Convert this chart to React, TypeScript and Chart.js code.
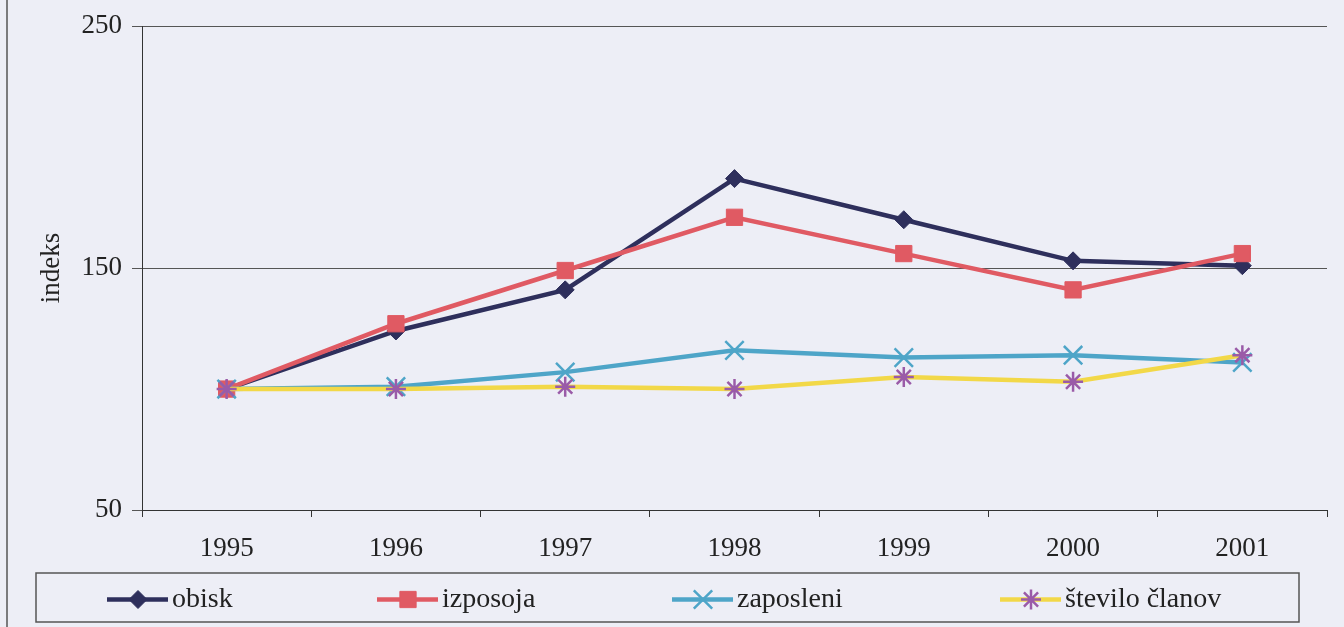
import { useEffect, useRef } from "react";
import { Chart, registerables } from "chart.js";

Chart.register(...registerables);

const years = ["1995", "1996", "1997", "1998", "1999", "2000", "2001"];
const obisk = [100, 124, 141, 187, 170, 153, 151];
const izposoja = [100, 127, 149, 171, 156, 141, 156];
const zaposleni = [100, 101, 107, 116, 113, 114, 111];
const steviloClanov = [100, 100, 101, 100, 105, 103, 114];
const yTicks = [50, 150, 250];
const seriesNames = ["obisk", "izposoja", "zaposleni", "število članov"];

const BG = "#EDEEF6";
const FONT = "'Liberation Serif', 'Times New Roman', serif";
const TEXT = "#222222";
const LEGEND_X = [107, 377, 672, 1000];

function drawMarker(ctx: CanvasRenderingContext2D, style: string, x: number, y: number, r: number, fill: string, stroke: string, bw: number) {
  ctx.save();
  ctx.fillStyle = fill;
  ctx.strokeStyle = stroke;
  ctx.lineWidth = bw;
  ctx.beginPath();
  if (style === "rectRot") {
    ctx.moveTo(x - r, y); ctx.lineTo(x, y - r); ctx.lineTo(x + r, y); ctx.lineTo(x, y + r); ctx.closePath();
    ctx.fill(); ctx.stroke();
  } else if (style === "rect") {
    const s = r * Math.SQRT1_2;
    ctx.rect(x - s, y - s, 2 * s, 2 * s);
    ctx.fill(); ctx.stroke();
  } else if (style === "crossRot") {
    const o = r * Math.SQRT1_2;
    ctx.moveTo(x - o, y - o); ctx.lineTo(x + o, y + o);
    ctx.moveTo(x + o, y - o); ctx.lineTo(x - o, y + o);
    ctx.stroke();
  } else if (style === "star") {
    const o = r * Math.SQRT1_2;
    ctx.moveTo(x, y - r); ctx.lineTo(x, y + r);
    ctx.moveTo(x - r, y); ctx.lineTo(x + r, y);
    ctx.moveTo(x - o, y - o); ctx.lineTo(x + o, y + o);
    ctx.moveTo(x + o, y - o); ctx.lineTo(x - o, y + o);
    ctx.stroke();
  }
  ctx.restore();
}

const boxLegend = {
  id: "boxLegend",
  afterDraw(chart: any) {
    const ctx: CanvasRenderingContext2D = chart.ctx;
    ctx.save();
    // scanned page edge
    ctx.strokeStyle = "#555";
    ctx.lineWidth = 1.5;
    ctx.beginPath();
    ctx.moveTo(7, 0);
    ctx.lineTo(7, chart.height);
    ctx.stroke();
    // legend box
    const left = 36;
    const top = 573;
    const w = 1299 - left;
    const h = 49;
    ctx.strokeStyle = "#555";
    ctx.lineWidth = 1.5;
    ctx.strokeRect(left, top, w, h);
    const cy = top + h / 2 + 2;
    chart.data.datasets.forEach((ds: any, i: number) => {
      const x0 = LEGEND_X[i];
      ctx.strokeStyle = ds.borderColor;
      ctx.lineWidth = ds.borderWidth;
      ctx.beginPath();
      ctx.moveTo(x0, cy);
      ctx.lineTo(x0 + 61, cy);
      ctx.stroke();
      drawMarker(ctx, ds.pointStyle, x0 + 31, cy, ds.pointRadius, ds.pointBackgroundColor, ds.pointBorderColor, ds.pointBorderWidth);
      ctx.fillStyle = TEXT;
      ctx.font = `28px ${FONT}`;
      ctx.textAlign = "left";
      ctx.textBaseline = "middle";
      ctx.fillText(ds.label, x0 + 65, cy);
    });
    ctx.restore();
  },
};

export default function App() {
  const ref = useRef<HTMLCanvasElement>(null);
  useEffect(() => {
    document.body.style.margin = "0";
    document.body.style.background = BG;
    const chart = new Chart(ref.current as HTMLCanvasElement, {
      type: "line",
      data: {
        labels: years,
        datasets: [
          {
            label: seriesNames[0],
            data: obisk,
            borderColor: "#2E2F5C",
            backgroundColor: "#2E2F5C",
            borderWidth: 4.5,
            pointStyle: "rectRot",
            pointRadius: 9,
            pointBackgroundColor: "#2E2F5C",
            pointBorderColor: "#2E2F5C",
            pointBorderWidth: 1,
            order: 4,
          },
          {
            label: seriesNames[1],
            data: izposoja,
            borderColor: "#E05A63",
            backgroundColor: "#E05A63",
            borderWidth: 4.5,
            pointStyle: "rect",
            pointRadius: 11.5,
            pointBackgroundColor: "#E05A63",
            pointBorderColor: "#E05A63",
            pointBorderWidth: 1,
            order: 3,
          },
          {
            label: seriesNames[2],
            data: zaposleni,
            borderColor: "#4EA5C8",
            backgroundColor: "#4EA5C8",
            borderWidth: 4.5,
            pointStyle: "crossRot",
            pointRadius: 13,
            pointBackgroundColor: "#4EA5C8",
            pointBorderColor: "#4EA5C8",
            pointBorderWidth: 2.5,
            order: 2,
          },
          {
            label: seriesNames[3],
            data: steviloClanov,
            borderColor: "#F2D848",
            backgroundColor: "#F2D848",
            borderWidth: 4.5,
            pointStyle: "star",
            pointRadius: 10,
            pointBackgroundColor: "#9A5BA8",
            pointBorderColor: "#9A5BA8",
            pointBorderWidth: 2.5,
            order: 1,
          },
        ],
      },
      options: {
        responsive: false,
        animation: false,
        layout: { padding: { top: 24, right: 17, bottom: 57, left: 0 } },
        plugins: {
          legend: { display: false },
          tooltip: { enabled: false },
        },
        scales: {
          x: {
            offset: true,
            grid: { offset: true, drawOnChartArea: false, drawTicks: true, tickLength: 7, color: "#333" },
            border: { display: true, color: "#333", width: 1 },
            ticks: { color: TEXT, font: { family: FONT, size: 27 }, padding: 16, maxRotation: 0 },
            afterFit: (s: any) => { s.height = 60; },
          },
          y: {
            min: 50,
            max: 250,
            afterBuildTicks: (s: any) => { s.ticks = yTicks.map((v) => ({ value: v })); },
            afterFit: (s: any) => { s.width = 142; },
            grid: { color: "#555", lineWidth: 1, drawTicks: true, tickLength: 10 },
            border: { display: true, color: "#333", width: 1 },
            ticks: { color: TEXT, font: { family: FONT, size: 27 }, padding: 10 },
            title: {
              display: true,
              text: "indeks",
              color: TEXT,
              font: { family: FONT, size: 27 },
              padding: { top: 36, bottom: 0 },
            },
          },
        },
      },
      plugins: [boxLegend],
    } as any);
    return () => chart.destroy();
  }, []);
  return (
    <div style={{ position: "absolute", left: 0, top: 0, width: 1344, height: 627, background: BG }}>
      <canvas ref={ref} width={1344} height={627} style={{ display: "block", width: 1344, height: 627 }} />
    </div>
  );
}
